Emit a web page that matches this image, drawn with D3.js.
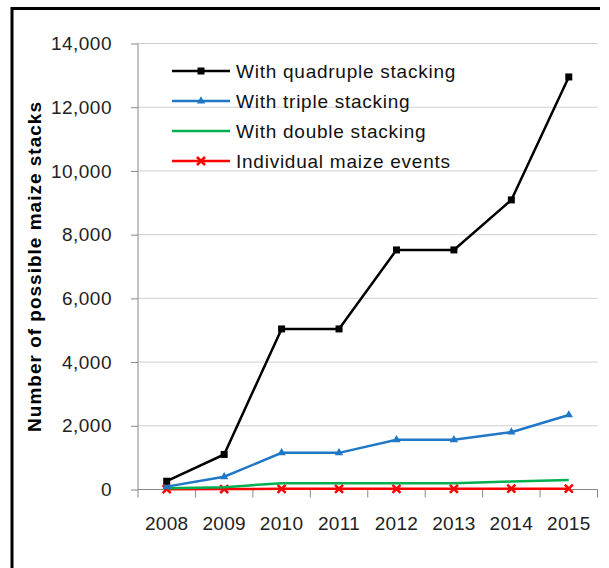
<!DOCTYPE html>
<html><head><meta charset="utf-8">
<script src="https://cdn.jsdelivr.net/npm/d3@7"></script>
<style>body{margin:0;background:#fff}svg{display:block}</style>
</head><body>
<script>
const years = ["2008","2009","2010","2011","2012","2013","2014","2015"];
const quadruple = [260, 1100, 5040, 5040, 7520, 7520, 9090, 12950];
const triple = [90, 400, 1150, 1150, 1560, 1560, 1800, 2340];
const double = [40, 70, 200, 200, 200, 200, 250, 300];
const individual = [10, 15, 20, 20, 20, 22, 25, 25];
const yTicks = [0, 2000, 4000, 6000, 8000, 10000, 12000, 14000];
const seriesNames = ["With quadruple stacking","With triple stacking","With double stacking","Individual maize events"];

const W = 609, H = 568;
const svg = d3.select("body").append("svg").attr("width", W).attr("height", H);
const mL = 138, mR = 597.5, mT = 43.5, mB = 489.5;
const x = d3.scaleBand().domain(years).range([mL, mR]);
const y = d3.scaleLinear().domain([0, 14000]).range([mB, mT]);
const font = "Liberation Sans, Arial, sans-serif";

// border
svg.append("path").attr("d", `M12,568 L12,8.5 L600,8.5`).attr("fill","none").attr("stroke","#000").attr("stroke-width",3);

// gridlines
svg.append("g").selectAll("line").data(yTicks.filter(d=>d>0)).join("line")
  .attr("x1", mL).attr("x2", mR).attr("y1", d=>y(d)).attr("y2", d=>y(d))
  .attr("stroke", "#cfcfcf").attr("stroke-width", 1);

// y axis
const ya = svg.append("g").attr("transform", `translate(${mL},0)`)
  .call(d3.axisLeft(y).tickValues(yTicks).tickFormat(d3.format(",")).tickSize(7).tickPadding(19));
ya.select(".domain").attr("stroke","#888").attr("d", `M0,${mT}V${mB}`);
ya.selectAll(".tick line").attr("stroke","#888");
ya.selectAll("text").attr("font-family", font).attr("font-size", 19).attr("letter-spacing", 0.5).attr("fill","#222");

// x axis
const xa = svg.append("g").attr("transform", `translate(0,${mB})`)
  .call(d3.axisBottom(x).tickSize(0).tickPadding(27));
xa.select(".domain").attr("stroke","#888").attr("d", `M${mL},0H${mR}`);
xa.selectAll("text").attr("font-family", font).attr("font-size", 19).attr("letter-spacing", 0.3).attr("fill","#222");
const bounds = years.map(d=>x(d)).concat([mR]);
xa.append("g").selectAll("line").data(bounds).join("line")
  .attr("x1", d=>d).attr("x2", d=>d).attr("y1",0).attr("y2",8).attr("stroke","#888");

// y title
svg.append("text").attr("transform", `translate(41,${(mT+mB)/2}) rotate(-90)`)
  .attr("text-anchor","middle").attr("font-family", font).attr("font-weight","bold")
  .attr("font-size", 19).attr("letter-spacing", 1).attr("fill","#000").text("Number of possible maize stacks");

const cx = d => x(d) + x.bandwidth()/2;
const line = vals => d3.line().x((v,i)=>cx(years[i])).y(v=>y(v))(vals);

const series = [
  {vals: quadruple, color: "#000000", marker: "square"},
  {vals: triple, color: "#1F77C6", marker: "triangle"},
  {vals: double, color: "#00B050", marker: "none"},
  {vals: individual, color: "#FF0000", marker: "x"}
];

function drawMarker(g, type, color, px, py) {
  if (type === "square") {
    g.append("rect").attr("x", px-3.5).attr("y", py-3.5).attr("width",7).attr("height",7).attr("fill", color);
  } else if (type === "triangle") {
    g.append("path").attr("d", d3.symbol(d3.symbolTriangle, 30)()).attr("transform", `translate(${px},${py})`).attr("fill", color);
  } else if (type === "x") {
    g.append("path").attr("d", `M${px-4},${py-4}L${px+4},${py+4}M${px-4},${py+4}L${px+4},${py-4}`)
      .attr("stroke", color).attr("stroke-width", 2.5);
  }
}

[...series].reverse().forEach(s => {
  const g = svg.append("g");
  g.append("path").attr("d", line(s.vals)).attr("fill","none").attr("stroke", s.color).attr("stroke-width", 2.5);
  s.vals.forEach((v,i) => drawMarker(g, s.marker, s.color, cx(years[i]), y(v)));
});

// legend
const leg = svg.append("g");
series.forEach((s,i) => {
  const ly = 71 + i*30;
  leg.append("line").attr("x1",172).attr("x2",230).attr("y1",ly).attr("y2",ly).attr("stroke", s.color).attr("stroke-width",2.5);
  drawMarker(leg, s.marker, s.color, 201, ly);
  leg.append("text").attr("x",236).attr("y",ly).attr("dy","0.35em").attr("font-family",font).attr("font-size",19)
    .attr("letter-spacing", 0.75).attr("fill","#111").text(seriesNames[i]);
});
</script>
</body></html>
